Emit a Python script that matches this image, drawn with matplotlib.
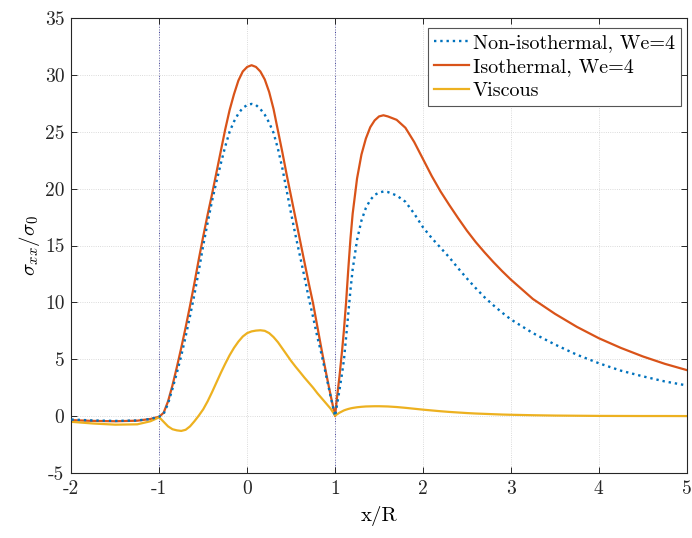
import matplotlib
matplotlib.use('Agg')
import matplotlib.pyplot as plt

# x/R 위치 (세 곡선 공통)
x = [-2.0, -1.75, -1.5, -1.25, -1.1, -1.0,
     -0.95, -0.9, -0.85, -0.8, -0.75, -0.7, -0.65, -0.6, -0.55, -0.5,
     -0.45, -0.4, -0.35, -0.3, -0.25, -0.2, -0.15, -0.1, -0.05,
     0.0, 0.05, 0.1, 0.15, 0.2, 0.25, 0.3, 0.35, 0.4, 0.45, 0.5,
     0.55, 0.6, 0.65, 0.7, 0.75, 0.8, 0.85, 0.9, 0.95, 1.0,
     1.02, 1.05, 1.08, 1.1, 1.125, 1.15, 1.175, 1.2,
     1.25, 1.3, 1.35, 1.4, 1.45, 1.5, 1.55, 1.6,
     1.7, 1.8, 1.9, 2.0, 2.1,
     2.2, 2.3, 2.4, 2.5, 2.6, 2.7, 2.8, 2.9, 3.0,
     3.25, 3.5, 3.75, 4.0, 4.25, 4.5, 4.75, 5.0]

# 비등온, We=4
non_iso = [-0.3, -0.38, -0.42, -0.38, -0.25, -0.05,
           0.2, 1.1, 2.4, 3.8, 5.3, 7.0, 8.8, 10.7, 12.8, 15.0,
           17.0, 18.9, 20.6, 22.2, 23.7, 25.0, 25.9, 26.6, 27.1,
           27.35, 27.45, 27.35, 27.0, 26.5, 25.8, 24.9, 23.5, 21.8, 19.8, 17.8,
           15.9, 14.1, 12.3, 10.4, 8.7, 6.9, 5.3, 3.5, 1.7, 0.0,
           0.9, 2.3, 3.8, 4.9, 6.9, 9.0, 11.1, 12.9,
           15.5, 17.2, 18.3, 19.0, 19.45, 19.65, 19.75, 19.7,
           19.4, 18.85, 17.8, 16.6, 15.65,
           14.8, 13.95, 13.0, 12.1, 11.25, 10.45, 9.75, 9.1, 8.5,
           7.3, 6.3, 5.4, 4.65, 4.0, 3.5, 3.05, 2.7]

# 등온, We=4
iso = [-0.35, -0.42, -0.45, -0.4, -0.25, -0.05,
       0.3, 1.3, 2.7, 4.3, 6.0, 7.8, 9.7, 11.7, 13.8, 15.8,
       17.7, 19.5, 21.4, 23.3, 25.2, 26.9, 28.3, 29.5, 30.3,
       30.7, 30.85, 30.7, 30.3, 29.6, 28.5, 27.0, 25.1, 23.2, 21.2, 19.3,
       17.4, 15.5, 13.6, 11.7, 9.9, 7.8, 5.7, 3.7, 1.8, 0.0,
       1.5, 3.5, 5.8, 7.5, 10.0, 12.9, 15.6, 17.8,
       20.9, 23.0, 24.4, 25.4, 26.0, 26.35, 26.45, 26.35,
       26.05, 25.35, 24.1, 22.6, 21.1,
       19.75, 18.55, 17.4, 16.3, 15.3, 14.4, 13.55, 12.75, 12.0,
       10.3, 9.0, 7.85, 6.85, 6.0, 5.25, 4.6, 4.05]

# 점성 유체
viscous = [-0.5, -0.65, -0.75, -0.72, -0.45, -0.1,
           -0.5, -0.9, -1.15, -1.25, -1.3, -1.2, -0.9, -0.45, 0.05, 0.6,
           1.3, 2.1, 2.95, 3.8, 4.6, 5.35, 6.0, 6.55, 7.0,
           7.3, 7.45, 7.52, 7.55, 7.5, 7.3, 6.95, 6.5, 5.95, 5.4, 4.85,
           4.35, 3.88, 3.4, 2.95, 2.5, 2.0, 1.55, 1.1, 0.65, 0.05,
           0.15, 0.3, 0.42, 0.5, 0.57, 0.63, 0.68, 0.72,
           0.78, 0.82, 0.85, 0.86, 0.87, 0.87, 0.86, 0.85,
           0.8, 0.73, 0.65, 0.57, 0.5,
           0.43, 0.37, 0.32, 0.27, 0.23, 0.2, 0.17, 0.14, 0.12,
           0.08, 0.05, 0.035, 0.02, 0.015, 0.01, 0.01, 0.005]

labels = ['Non-isothermal, We=4', 'Isothermal, We=4', 'Viscous']

plt.rcParams['font.family'] = 'cmr10'
plt.rcParams['mathtext.fontset'] = 'cm'
plt.rcParams['axes.unicode_minus'] = False
plt.rcParams['axes.formatter.use_mathtext'] = True

fig = plt.figure(figsize=(6.92, 5.38), dpi=100)
ax = fig.add_axes([0.1031, 0.1208, 0.8893, 0.8457])

# 실린더 경계 위치 (x=-1, x=1)
for xv in [-1, 1]:
    ax.axvline(xv, color='#30309a', linestyle=':', linewidth=0.7, zorder=1)

ax.plot(x, non_iso, linestyle=':', color='#0072BD', linewidth=1.7, label=labels[0], zorder=3)
ax.plot(x, iso, color='#D95319', linewidth=1.6, label=labels[1], zorder=2)
ax.plot(x, viscous, color='#EDB120', linewidth=1.6, label=labels[2], zorder=2)

ax.set_xlim(-2, 5)
ax.set_ylim(-5, 35)
ax.set_xticks(range(-2, 6))
ax.set_yticks(range(-5, 36, 5))
ax.set_xticklabels([str(v) for v in range(-2, 6)])
ax.set_yticklabels([str(v) for v in range(-5, 36, 5)])

ax.grid(True, linestyle=':', color='#cfcfcf', linewidth=0.6)
ax.tick_params(direction='in', length=4.5, width=0.7, top=True, right=True,
               labelsize=14, colors='#262626', pad=5)
for s in ax.spines.values():
    s.set_color('#262626')
    s.set_linewidth(0.8)

ax.set_xlabel('x/R', fontsize=15, labelpad=6)
ax.set_ylabel(r'$\sigma_{xx}/\sigma_0$', fontsize=15, labelpad=2)

leg = ax.legend(loc='upper right', bbox_to_anchor=(0.9907, 0.978), borderaxespad=0,
                fontsize=14.5, fancybox=False, framealpha=1, edgecolor='#555555',
                handlelength=1.75, handletextpad=0.2, labelspacing=0.28, borderpad=0.3)
leg.get_frame().set_linewidth(0.8)

plt.savefig('out.png', dpi=100)
